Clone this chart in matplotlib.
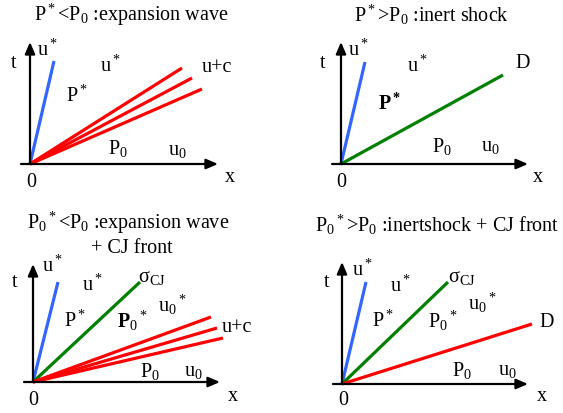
import matplotlib
matplotlib.use("Agg")
import matplotlib.pyplot as plt

plt.rcParams['font.family'] = ['Liberation Serif', 'DejaVu Serif']
plt.rcParams['mathtext.fontset'] = 'custom'
plt.rcParams['mathtext.rm'] = 'Liberation Serif'
plt.rcParams['mathtext.it'] = 'Liberation Serif'
plt.rcParams['mathtext.bf'] = 'Liberation Serif:bold'
plt.rcParams['mathtext.default'] = 'regular'

BLUE = '#3366ff'
GREEN = '#008000'
RED = '#ff0000'

# panel origins (x, t) in figure pixels
origins = [(30, 165), (341, 165), (33, 383), (342, 385)]
# axis extents: (x start, x tip, t tip) relative to origin
axis_left = [-9, -9, -9, -9]
axis_right = [188, 187, 187, 186]
axis_top = [-122, -122, -118, -122]

# rays from the origin: (dx, dt, colour)
rays = [
    [(24, -103, BLUE), (152, -96, RED), (162, -86, RED), (172, -75, RED)],
    [(24, -102, BLUE), (162, -89, GREEN)],
    [(25, -100, BLUE), (107, -100, GREEN), (178, -65, RED), (184, -54, RED), (190, -44, RED)],
    [(24, -102, BLUE), (106, -102, GREEN), (190, -60, RED)],
]

titles = [
    ["P$^*$<P$_0$ :expansion wave"],
    ["P$^*$>P$_0$ :inert shock"],
    ["P$_0$$^*$<P$_0$ :expansion wave", "+ CJ front"],
    ["P$_0$$^*$>P$_0$ :inertshock + CJ front"],
]
title_pos = [[(131, 15)], [(432, 15)], [(128, 223), (132, 249)], [(437, 225)]]

# region / ray labels: (x, y, text)
labels = [
    [(14, 63, "t"), (47, 50, "u$^*$"), (110, 66, "u$^*$"),
     (77, 96, "P$^*$"), (217, 68, "u+c"), (118, 149, "P$_0$"),
     (177, 151, "u$_0$"), (31, 183, "0"), (230, 178, "x")],
    [(323, 63, "t"), (358, 50, "u$^*$"), (417, 66, "u$^*$"),
     (390, 104, r"$\mathbf{P^*}$"), (523, 63, "D"), (442, 147, "P$_0$"),
     (490, 147, "u$_0$"), (341, 183, "0"), (538, 178, "x")],
    [(15, 283, "t"), (52, 266, "u$^*$"), (92, 285, "u$^*$"),
     (152, 278, "σ$_{CJ}$"), (172, 305, "u$_0$$^*$"),
     (75, 321, "P$^*$"), (132, 321, r"$\mathbf{P}_0$$^*$"),
     (237, 328, "u+c"), (150, 372, "P$_0$"), (193, 372, "u$_0$"),
     (33, 401, "0"), (233, 397, "x")],
    [(327, 283, "t"), (362, 270, "u$^*$"), (400, 286, "u$^*$"),
     (462, 278, "σ$_{CJ}$"), (482, 303, "u$_0$$^*$"),
     (383, 321, "P$^*$"), (443, 321, "P$_0$$^*$"),
     (547, 323, "D"), (462, 371, "P$_0$"), (507, 371, "u$_0$"),
     (343, 401, "0"), (542, 397, "x")],
]

fig = plt.figure(figsize=(5.63, 4.14), dpi=100)
ax = fig.add_axes([0, 0, 1, 1])
ax.set_xlim(0, 563)
ax.set_ylim(414, 0)
ax.axis('off')

arrow = dict(arrowstyle='-|>,head_length=0.7,head_width=0.3', color='black', lw=1.6,
             shrinkA=0, shrinkB=0)

for i, (ox, oy) in enumerate(origins):
    ax.annotate('', xy=(ox + axis_right[i], oy), xytext=(ox + axis_left[i], oy),
                arrowprops=arrow)
    ax.annotate('', xy=(ox, oy + axis_top[i]), xytext=(ox, oy), arrowprops=arrow)
    for dx, dt, c in rays[i]:
        ax.plot([ox, ox + dx], [oy, oy + dt], color=c, lw=2.3, solid_capstyle='butt')
    for (tx, ty), t in zip(title_pos[i], titles[i]):
        ax.text(tx, ty, t, fontsize=14.5, ha='center', va='center')
    for x, y, t in labels[i]:
        ax.text(x, y, t, fontsize=14.5, ha='center', va='center')

fig.savefig('out.png', dpi=100)
